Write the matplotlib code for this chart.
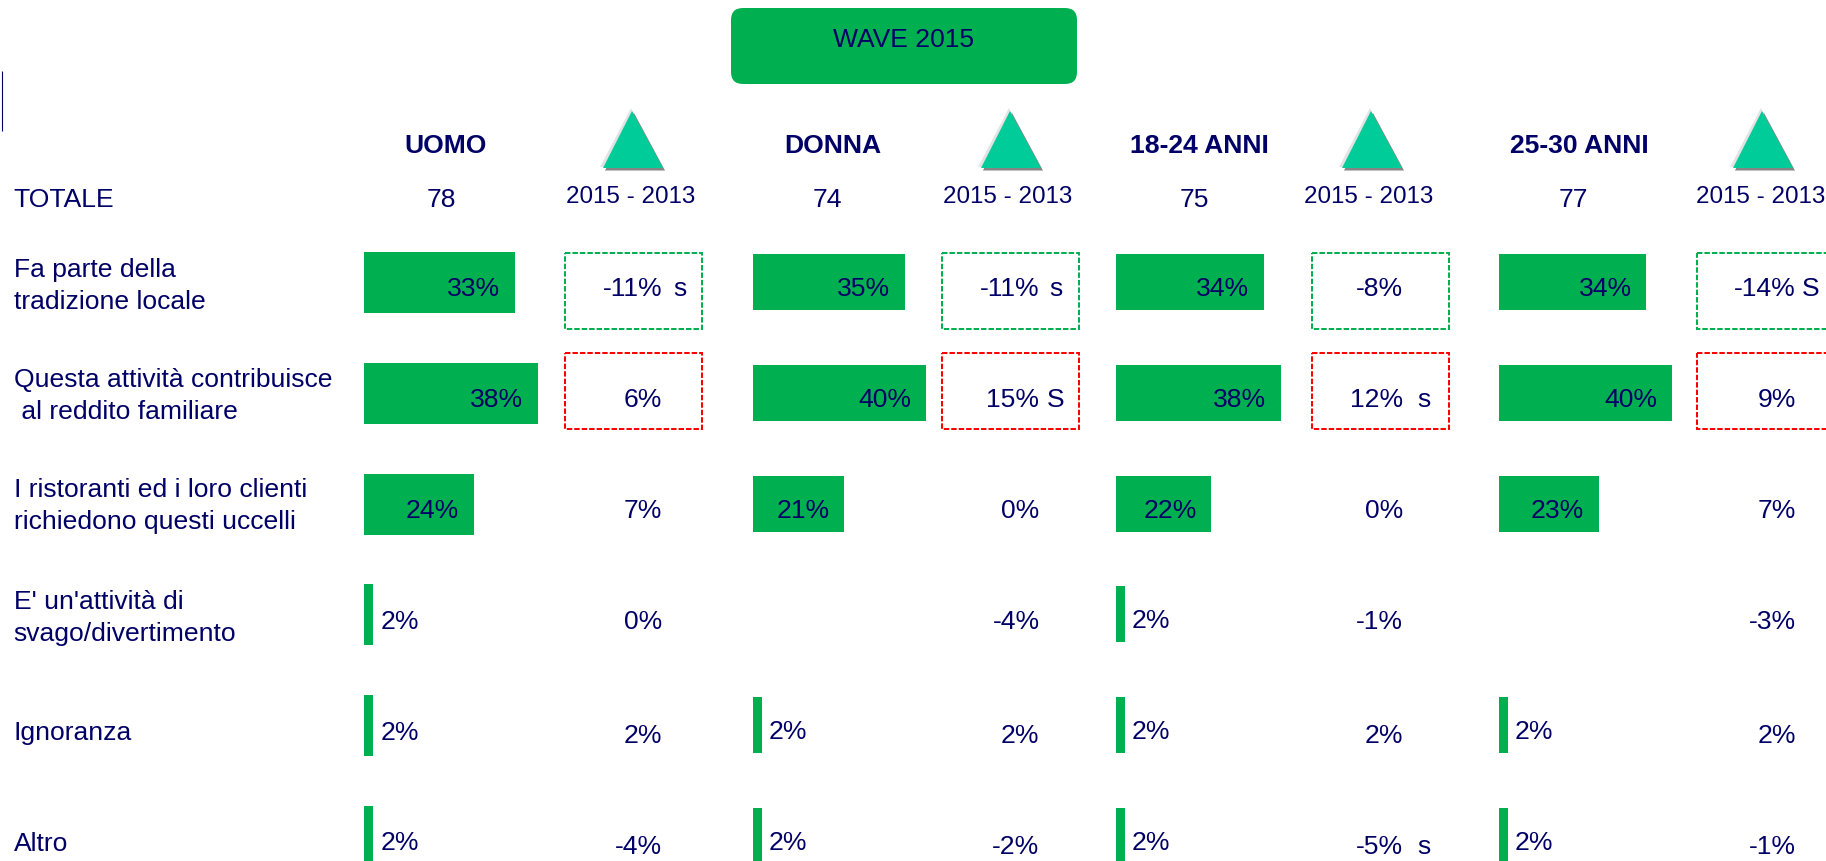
import numpy as np
import matplotlib
matplotlib.use("Agg")
import matplotlib.pyplot as plt
from matplotlib.patches import FancyBboxPatch, Polygon, Rectangle

plt.rcParams['font.family'] = ['Liberation Sans', 'DejaVu Sans']

W, H = 1826, 861
NAVY = '#000066'
GREEN = '#00B050'
TEAL = '#00CC99'
RED = '#FF0000'

# ---------- data ----------
row_labels = ["Fa parte della\ntradizione locale",
              "Questa attività contribuisce\n al reddito familiare",
              "I ristoranti ed i loro clienti\nrichiedono questi uccelli",
              "E' un'attività di\nsvago/divertimento",
              "Ignoranza",
              "Altro"]
groups = ["UOMO", "DONNA", "18-24 ANNI", "25-30 ANNI"]
totals = [78, 74, 75, 77]
uomo = [33, 38, 24, 2, 2, 2]
donna = [35, 40, 21, np.nan, 2, 2]
anni_18_24 = [34, 38, 22, 2, 2, 2]
anni_25_30 = [34, 40, 23, np.nan, 2, 2]
delta_uomo = [-11, 6, 7, 0, 2, -4]
delta_donna = [-11, 15, 0, -4, 2, -2]
delta_18_24 = [-8, 12, 0, -1, 2, -5]
delta_25_30 = [-14, 9, 7, -3, 2, -1]
flag_uomo = ["s", "", "", "", "", ""]
flag_donna = ["s", "S", "", "", "", ""]
flag_18_24 = ["", "s", "", "", "", "s"]
flag_25_30 = ["S", "", "", "", "", ""]
wave_title = "WAVE 2015"
delta_title = "2015 - 2013"
total_title = "TOTALE"

series = [uomo, donna, anni_18_24, anni_25_30]
deltas = [delta_uomo, delta_donna, delta_18_24, delta_25_30]
flags = [flag_uomo, flag_donna, flag_18_24, flag_25_30]

# ---------- layout (pixels) ----------
FS = 19.05
bar_left = [364, 753, 1116, 1499]
px_per_pct = [4.57, 4.33, 4.34, 4.33]
bar_px = [61, 56, 56, 56]
row0 = [282.5, 282, 282, 282]
row_step = [110.8, 110.8, 110.8, 110.8]
hdr_x = [446, 832.5, 1199, 1579]
tot_x = [441, 827, 1194, 1573.5]
tri_x = [633, 1011, 1372, 1763]
dlt_x = [631, 1008, 1368.5, 1761]
box_left = [565, 941.5, 1312, 1697]
box_w = 137
num_right = [662, 1039.5, 1403, 1796]
flag_gap = {'s': [11, 10, 14, 14], 'S': [8, 7, 8, 6]}
delta_base = [296, 407, 518, 629, 743, 854]

fig = plt.figure(figsize=(W / 100, H / 100), dpi=100, facecolor='white')

# overlay in pixel coordinates for the slide furniture
ov = fig.add_axes([0, 0, 1, 1], zorder=3)
ov.set_xlim(0, W)
ov.set_ylim(H, 0)
ov.axis('off')
ov.patch.set_alpha(0)

# bar panels, one chart per group
for c, vals in enumerate(series):
    panel_w = 260
    top = row0[c] - row_step[c] / 2
    ax = fig.add_axes([bar_left[c] / W, 0, panel_w / W, (H - top) / H], zorder=2)
    ax.patch.set_alpha(0)
    ax.set_xlim(0, panel_w / px_per_pct[c])
    ax.set_ylim((H - row0[c]) / row_step[c], -0.5)
    ax.axis('off')
    ax.barh(np.arange(6), vals, height=bar_px[c] / row_step[c], color=GREEN, linewidth=0)
    for r, v in enumerate(vals):
        if np.isnan(v):
            continue
        inside = v > 5
        ax.annotate(f"{v:.0f}%", (v, r), xytext=(-14.5 if inside else 7, -14),
                    textcoords='offset pixels', ha='right' if inside else 'left',
                    va='baseline', fontsize=FS, color=NAVY, annotation_clip=False)

# title box
ov.add_patch(FancyBboxPatch((741, 18), 326, 56,
                            boxstyle="round,pad=10,rounding_size=12",
                            facecolor=GREEN, edgecolor='none'))
ov.text(904, 47, wave_title, ha='center', va='baseline', fontsize=FS, color=NAVY)

# thin rule at far left
ov.plot([1.5, 1.5], [71, 131], color=NAVY, lw=0.8, solid_capstyle='butt')

# left labels
ov.text(13.5, 207, total_title, ha='left', va='baseline', fontsize=FS, color=NAVY)
label_base = [[277, 309], [387, 419], [497, 529], [609, 641], [740], [851]]
for text, bases in zip(row_labels, label_base):
    for line, b in zip(text.split("\n"), bases):
        ov.text(13.5, b, line.replace(" al", "\u00a0al") if line.startswith(" ") else line,
                ha='left', va='baseline', fontsize=FS, color=NAVY)

for c in range(4):
    ov.text(hdr_x[c], 153, groups[c], ha='center', va='baseline', fontsize=FS,
            fontweight='bold', color=NAVY)
    ov.text(tot_x[c], 207, str(totals[c]), ha='center', va='baseline', fontsize=FS, color=NAVY)
    ov.text(dlt_x[c], 203, delta_title, ha='center', va='baseline', fontsize=17.4, color=NAVY)

    # triangle glyph: highlight, shadow, face
    x = tri_x[c]
    ov.add_patch(Polygon([(x - 2, 108), (x - 33, 167), (x + 25, 167)], closed=True,
                         facecolor='#E3E3E3', edgecolor='none'))
    ov.add_patch(Polygon([(x + 1, 113), (x - 28, 170.5), (x + 32, 170.5)], closed=True,
                         facecolor='#858585', edgecolor='none'))
    ov.add_patch(Polygon([(x - 1, 111), (x - 30, 168), (x + 30, 168)], closed=True,
                         facecolor=TEAL, edgecolor='none'))

    # dashed significance boxes
    for (y0, y1, col) in [(252.5, 328.5, GREEN), (353, 428.5, RED)]:
        ov.add_patch(Rectangle((box_left[c], y0), box_w, y1 - y0, fill=False, edgecolor=col,
                               linewidth=1.45, linestyle=(0, (2.7, 1.0))))

    # delta values
    for r, (d, f) in enumerate(zip(deltas[c], flags[c])):
        ov.text(num_right[c], delta_base[r], f"{d}%", ha='right', va='baseline',
                fontsize=FS, color=NAVY)
        if f:
            ov.text(num_right[c] + flag_gap[f][c], delta_base[r], f, ha='left', va='baseline',
                    fontsize=FS, color=NAVY)

fig.savefig("out.png", dpi=100, facecolor='white')
